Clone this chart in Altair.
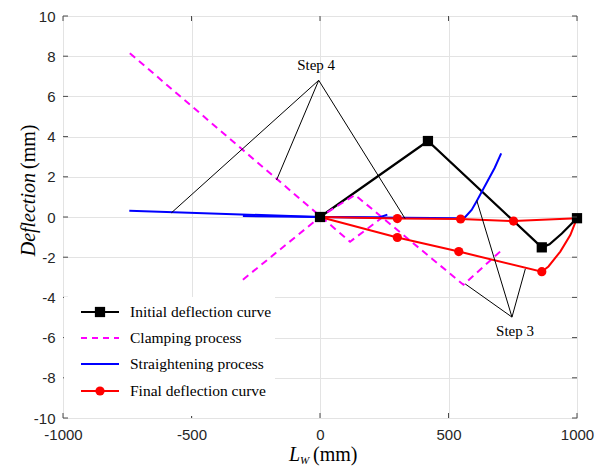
import altair as alt
import pandas as pd

# ---------------- data ----------------
x_ticks = [-1000, -500, 0, 500, 1000]
y_ticks = [-10, -8, -6, -4, -2, 0, 2, 4, 6, 8, 10]

# Initial deflection curve (black, squares)
init_x = [0, 420, 863, 893, 941, 1000]
init_y = [0.0, 3.78, -1.51, -1.36, -0.82, -0.06]
init_mx = [0, 420, 863, 1000]
init_my = [0.0, 3.78, -1.51, -0.06]

# Clamping process (magenta dashed) – two broken lines
clampA_x = [-740, 117, 255]
clampA_y = [8.15, -1.23, 0.1]
clampB_x = [-300, 0, 136, 558, 701]
clampB_y = [-3.12, 0.0, 1.1, -3.37, -1.72]

# Straightening process (blue)
strA_x = [-742, 0]
strA_y = [0.31, 0.0]
strB_x = [-300, 0]
strB_y = [0.05, 0.0]
strC_x = [0, 230, 262]
strC_y = [0.0, -0.02, 0.12]
strD_x = [0, 545, 565, 590, 610, 649, 680, 705]
strD_y = [0.0, -0.06, 0.0, 0.35, 0.8, 1.72, 2.45, 3.17]

# Final deflection curve (red, circles)
finU_x = [0, 301, 547, 753, 1000]
finU_y = [0.0, -0.08, -0.1, -0.2, -0.06]
finL_x = [0, 301, 540, 863, 889, 935, 974, 1000]
finL_y = [0.0, -1.02, -1.72, -2.72, -2.46, -1.72, -0.9, -0.06]
fin_mx = [301, 547, 753, 301, 540, 863]
fin_my = [-0.08, -0.1, -0.2, -1.02, -1.72, -2.72]

# Annotation leader lines
step4_apex = (-5, 6.8)
step4_ends_x = [-578, -169, 331]
step4_ends_y = [0.21, 1.84, -0.08]
step3_apex = (747, -4.98)
step3_ends_x = [565, 799, 610]
step3_ends_y = [-3.33, -2.58, 0.82]
step_labels = ["Step 4", "Step 3"]
step_lx = [-15, 759]
step_ly = [7.55, -5.67]

legend_labels = ["Initial deflection curve", "Clamping process",
                 "Straightening process", "Final deflection curve"]

# ---------------- helpers ----------------
W, H = 514, 402
SERIF = "Liberation Serif"
SANS = "Liberation Sans"
FRAME = "#4a4a4a"


def seg_df(segs):
    rows = []
    for s, (xs_, ys_) in enumerate(segs):
        for i, (a, b) in enumerate(zip(xs_, ys_)):
            rows.append({"x": a, "y": b, "seg": s, "i": i})
    return pd.DataFrame(rows)


xs = alt.Scale(domain=[-1000, 1000], nice=False, zero=False)
ys = alt.Scale(domain=[-10, 10], nice=False, zero=False)
X = alt.X("x:Q", scale=xs, axis=alt.Axis(
    values=x_ticks, grid=True, gridColor="#e3e3e3", gridWidth=1, ticks=False,
    domain=False, labelFont=SANS, labelFontSize=15, labelColor="#262626",
    labelPadding=9, title=None, labelFlush=False, labelExpr="'' + datum.value"))
Y = alt.Y("y:Q", scale=ys, axis=alt.Axis(
    values=y_ticks, grid=True, gridColor="#e3e3e3", gridWidth=1, ticks=False,
    domain=False, labelFont=SANS, labelFontSize=15, labelColor="#262626",
    labelPadding=8, title=None, labelFlush=False, labelExpr="'' + datum.value"))


def line_layer(segs, color, width, dash=None):
    kw = dict(color=color, strokeWidth=width)
    if dash is not None:
        kw["strokeDash"] = dash
    return alt.Chart(seg_df(segs)).mark_line(**kw).encode(
        x=X, y=Y, detail="seg:N", order="i:Q")


one = pd.DataFrame({"a": [0]})

layers = []

# black initial curve
layers.append(line_layer([(init_x, init_y)], "#000000", 2.2))
# magenta clamping
layers.append(line_layer([(clampA_x, clampA_y), (clampB_x, clampB_y)],
                         "#ff00ff", 2, [7, 5]))
# blue straightening
layers.append(line_layer([(strA_x, strA_y), (strB_x, strB_y),
                          (strC_x, strC_y), (strD_x, strD_y)], "#0000ff", 2))
# red final
layers.append(line_layer([(finU_x, finU_y), (finL_x, finL_y)], "#ff0000", 2))
layers.append(alt.Chart(pd.DataFrame({"x": fin_mx, "y": fin_my})).mark_point(
    shape="circle", filled=True, size=85, color="#ff0000", opacity=1).encode(x=X, y=Y))
layers.append(alt.Chart(pd.DataFrame({"x": init_mx, "y": init_my})).mark_point(
    shape="square", filled=True, size=105, color="#000000", opacity=1).encode(x=X, y=Y))

# annotation leader lines
lead_segs = []
for ex, ey in zip(step4_ends_x, step4_ends_y):
    lead_segs.append(([step4_apex[0], ex], [step4_apex[1], ey]))
for ex, ey in zip(step3_ends_x, step3_ends_y):
    lead_segs.append(([step3_apex[0], ex], [step3_apex[1], ey]))
layers.append(line_layer(lead_segs, "#000000", 1))
layers.append(alt.Chart(pd.DataFrame({"x": step_lx, "y": step_ly, "t": step_labels}))
              .mark_text(font=SERIF, fontSize=15, color="#000000", baseline="middle")
              .encode(x=X, y=Y, text="t:N"))

# manual tick marks (inward, MATLAB style)
xt = pd.DataFrame({"x": x_ticks})
yt = pd.DataFrame({"y": y_ticks})
layers.append(alt.Chart(xt).mark_rule(color=FRAME, strokeWidth=1).encode(
    x=X, y=alt.value(H), y2=alt.value(H - 5)))
layers.append(alt.Chart(xt).mark_rule(color=FRAME, strokeWidth=1).encode(
    x=X, y=alt.value(0), y2=alt.value(5)))
layers.append(alt.Chart(yt).mark_rule(color=FRAME, strokeWidth=1).encode(
    y=Y, x=alt.value(0), x2=alt.value(5)))
layers.append(alt.Chart(yt).mark_rule(color=FRAME, strokeWidth=1).encode(
    y=Y, x=alt.value(W - 5), x2=alt.value(W)))

# manual legend
layers.append(alt.Chart(one).mark_rect(color="white").encode(
    x=alt.value(1), x2=alt.value(212), y=alt.value(281), y2=alt.value(400)))
rows_y = [296, 322, 348, 375]
styles = [("#000000", None, "square"), ("#ff00ff", [6, 5], None),
          ("#0000ff", None, None), ("#ff0000", None, "circle")]
for lab, ry, (col, dash, shp) in zip(legend_labels, rows_y, styles):
    kw = dict(color=col, strokeWidth=2)
    if dash is not None:
        kw["strokeDash"] = dash
    layers.append(alt.Chart(one).mark_rule(**kw).encode(
        x=alt.value(18), x2=alt.value(56), y=alt.value(ry)))
    if shp is not None:
        layers.append(alt.Chart(one).mark_point(
            shape=shp, filled=True, opacity=1, color=col,
            size=105 if shp == "square" else 85).encode(
            x=alt.value(37), y=alt.value(ry)))
    layers.append(alt.Chart(one).mark_text(
        text=lab, font=SERIF, fontSize=15.5, color="#000000",
        align="left", baseline="middle").encode(x=alt.value(67), y=alt.value(ry)))

# axis titles (mixed italic / upright)
layers.append(alt.Chart(one).mark_text(
    text="Deflection", font=SERIF, fontSize=20, fontStyle="italic", angle=270,
    align="right", baseline="alphabetic", color="#000000").encode(
    x=alt.value(-28), y=alt.value(157)))
layers.append(alt.Chart(one).mark_text(
    text="(mm)", font=SERIF, fontSize=20, angle=270,
    align="left", baseline="alphabetic", color="#000000").encode(
    x=alt.value(-28), y=alt.value(153)))
layers.append(alt.Chart(one).mark_text(
    text="L", font=SERIF, fontSize=20, fontStyle="italic",
    align="left", baseline="alphabetic", color="#000000").encode(
    x=alt.value(226), y=alt.value(445)))
layers.append(alt.Chart(one).mark_text(
    text="W", font=SERIF, fontSize=11, fontStyle="italic",
    align="left", baseline="alphabetic", color="#000000").encode(
    x=alt.value(237), y=alt.value(448)))
layers.append(alt.Chart(one).mark_text(
    text="(mm)", font=SERIF, fontSize=20,
    align="left", baseline="alphabetic", color="#000000").encode(
    x=alt.value(250), y=alt.value(445)))

chart = alt.layer(*layers).properties(
    width=W, height=H,
    autosize=alt.AutoSizeParams(type="none"),
    padding={"left": 55, "top": 8, "right": 20, "bottom": 52},
).configure_view(stroke=FRAME, strokeWidth=1).configure(background="white")

chart.save("out.html", embed_options={"renderer": "svg", "actions": False})
